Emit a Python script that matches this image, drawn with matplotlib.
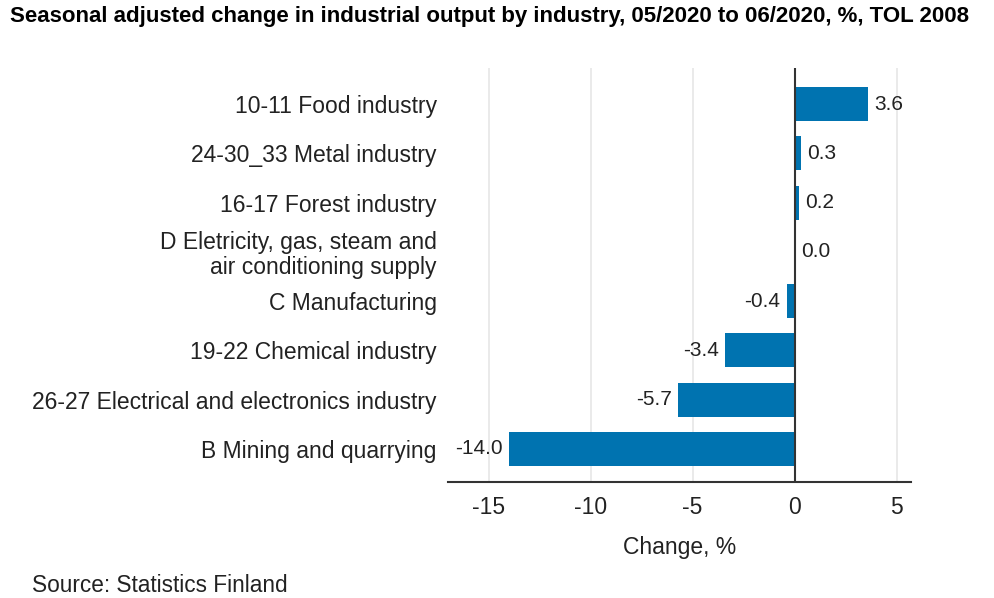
import matplotlib.pyplot as plt
import numpy as np

plt.rcParams['font.family'] = ['Liberation Sans', 'DejaVu Sans']

# Data
industries = [
    '10-11 Food industry',
    '24-30_33 Metal industry',
    '16-17 Forest industry',
    'D Eletricity, gas, steam and\nair conditioning supply',
    'C Manufacturing',
    '19-22 Chemical industry',
    '26-27 Electrical and electronics industry',
    'B Mining and quarrying',
]
change = [3.6, 0.3, 0.2, 0.0, -0.4, -3.4, -5.7, -14.0]
x_ticks = [-15, -10, -5, 0, 5]

fig = plt.figure(figsize=(9.95, 5.98), dpi=100)
ax = fig.add_axes([0.450, 0.194, 0.4656, 0.692])

y = np.arange(len(industries))
ax.barh(y, change, height=0.69, color='#0073b0', zorder=3)

for yi, v in zip(y, change):
    if v >= 0:
        ax.text(v + 0.3, yi, f'{v:.1f}', ha='left', va='center', fontsize=15, color='#222222')
    else:
        ax.text(v - 0.3, yi, f'{v:.1f}', ha='right', va='center', fontsize=15, color='#222222')

ax.set_xlim(-17, 5.7)
ax.set_ylim(7.67, -0.73)
ax.set_yticks(y)
ax.set_yticklabels(industries, fontsize=16.5, color='#222222', linespacing=1.1)
ax.set_xticks(x_ticks)
ax.set_xticklabels([str(t) for t in x_ticks], fontsize=16.5, color='#222222')
ax.tick_params(axis='y', length=0, pad=8)
ax.tick_params(axis='x', length=0, pad=10)

for s in ['top', 'right', 'left']:
    ax.spines[s].set_visible(False)
ax.spines['bottom'].set_color('#333333')
ax.spines['bottom'].set_linewidth(1.5)

ax.grid(axis='x', color='#e6e6e6', linewidth=1.2, zorder=0)
ax.axvline(0, color='#333333', linewidth=1.5, zorder=4)

ax.set_xlabel('Change, %', fontsize=16.5, color='#222222', labelpad=12)

fig.text(0.010, 0.9716, 'Seasonal adjusted change in industrial output by industry, 05/2020 to 06/2020, %, TOL 2008',
         fontsize=16, fontweight='bold', ha='left', va='center')
fig.text(0.032, 0.0217, 'Source: Statistics Finland', fontsize=16.3, color='#222222', ha='left', va='center')

fig.savefig('out.png', dpi=100)
